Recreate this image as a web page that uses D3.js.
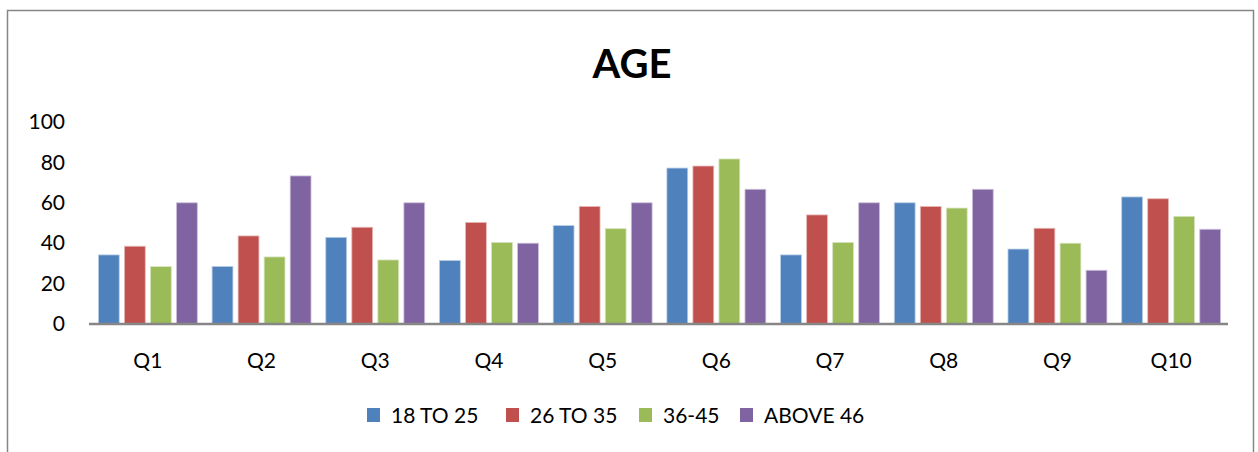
<!DOCTYPE html>
<html><head><meta charset="utf-8">
<script src="https://cdn.jsdelivr.net/npm/d3@7"></script>
<style>body{margin:0;background:#fff}svg{display:block}text{font-family:Lato,"Open Sans",sans-serif}</style>
</head><body>
<script>
const categories = ["Q1","Q2","Q3","Q4","Q5","Q6","Q7","Q8","Q9","Q10"];
const seriesNames = ["18 TO 25","26 TO 35","36-45","ABOVE 46"];
const s18to25 = [34.2,28.5,42.9,31.4,48.7,77.2,34.2,60,37.1,62.9];
const s26to35 = [38.5,43.6,47.9,50.3,58.2,78.2,54,58.2,47.4,62];
const s36to45 = [28.4,33.2,31.7,40.4,47.2,81.7,40.4,57.4,40,53.3];
const sAbove46 = [60,73.3,60,40,60,66.7,60,66.7,26.6,46.9];
const yTicks = [0,20,40,60,80,100];
const colors = ["#4F81BD","#C0504D","#9BBB59","#8064A2"];
const strokes = ["#b9cde5","#e6b9b8","#d7e4bd","#ccc1da"];
const series = [s18to25,s26to35,s36to45,sAbove46];

const W=1258,H=452;
const svg=d3.select("body").append("svg").attr("width",W).attr("height",H);
svg.append("rect").attr("x",7.5).attr("y",10.5).attr("width",1246).attr("height",460)
  .attr("fill","#fff").attr("stroke","#868686").attr("stroke-width",1.5);

svg.append("text").attr("x",632).attr("y",77.5).attr("text-anchor","middle")
  .attr("font-size",40).attr("font-weight","bold").text("AGE");

const x=d3.scaleBand().domain(categories).range([91,1228]).paddingInner(0.13).paddingOuter(0.065);
const x1=d3.scaleBand().domain(d3.range(4)).range([0,x.bandwidth()]).paddingInner(0.2);
const y=d3.scaleLinear().domain([0,100]).range([324,122]);

const g=svg.append("g");
categories.forEach((c,i)=>{
  series.forEach((s,k)=>{
    g.append("rect").attr("x",x(c)+x1(k)).attr("y",y(s[i])).attr("width",x1.bandwidth())
     .attr("height",y(0)-y(s[i])).attr("fill",colors[k]).attr("stroke",strokes[k]).attr("stroke-width",0.8);
  });
});

// y axis labels
const ya=svg.append("g").attr("transform","translate(65,0)")
  .call(d3.axisLeft(y).tickValues(yTicks).tickSize(0).tickPadding(0));
ya.select(".domain").remove();
ya.selectAll("text").attr("font-size",21).attr("fill","#000").attr("font-family","Lato,'Open Sans',sans-serif");

// x axis
const xa=svg.append("g").attr("transform","translate(0,324)")
  .call(d3.axisBottom(x).tickSize(0).tickPadding(0));
xa.select(".domain").attr("stroke","#868686").attr("stroke-width",2.5).attr("d","M89,0H1228");
xa.selectAll("text").attr("font-size",21).attr("fill","#000").attr("dy","0").attr("y",44)
  .attr("font-family","Lato,'Open Sans',sans-serif");

// legend
const lx=[367,506,639,740];
const lg=svg.append("g");
seriesNames.forEach((n,k)=>{
  lg.append("rect").attr("x",lx[k]).attr("y",408).attr("width",13).attr("height",14).attr("fill",colors[k]);
  lg.append("text").attr("x",lx[k]+24).attr("y",423).attr("font-size",21).text(n);
});
</script>
</body></html>
